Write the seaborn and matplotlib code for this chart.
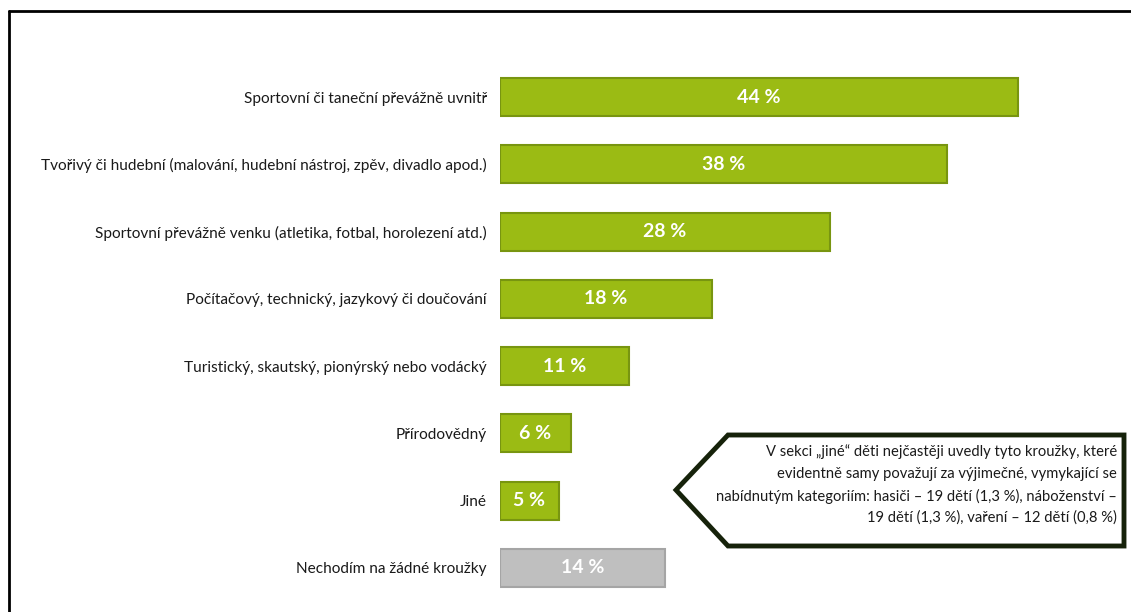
import matplotlib
matplotlib.use("Agg")
import matplotlib.pyplot as plt
import seaborn as sns
import pandas as pd
from matplotlib.patches import Polygon
from matplotlib.lines import Line2D

categories = [
    "Sportovní či taneční převážně uvnitř",
    "Tvořivý či hudební (malování, hudební nástroj, zpěv, divadlo apod.)",
    "Sportovní převážně venku (atletika, fotbal, horolezení atd.)",
    "Počítačový, technický, jazykový či doučování",
    "Turistický, skautský, pionýrský nebo vodácký",
    "Přírodovědný",
    "Jiné",
    "Nechodím na žádné kroužky",
]
values = [44, 38, 28, 18, 11, 6, 5, 14]
groups = ["a", "a", "a", "a", "a", "a", "a", "b"]
value_labels = ["44 %", "38 %", "28 %", "18 %", "11 %", "6 %", "5 %", "14 %"]
note_lines = [
    "V sekci „jiné“ děti nejčastěji uvedly tyto kroužky, které",
    "evidentně samy považují za výjimečné, vymykající se",
    "nabídnutým kategoriím: hasiči – 19 dětí (1,3 %), náboženství –",
    "19 dětí (1,3 %), vaření – 12 dětí (0,8 %)",
]

sns.set_theme(style="white")
plt.rcParams["font.family"] = ["Lato", "DejaVu Sans"]

df = pd.DataFrame({"cat": categories, "val": values, "grp": groups})

W, H = 1131, 612
fig = plt.figure(figsize=(W / 100, H / 100), dpi=100)
ax = fig.add_axes([500 / W, 1 - 601.6 / H, 588.5 / W, (601.6 - 63.4) / H])

sns.barplot(data=df, y="cat", x="val", hue="grp", orient="h",
            palette={"a": "#9bbb14", "b": "#bfbfbf"}, dodge=False,
            width=0.565, legend=False, ax=ax, saturation=1)

edge = {"a": "#789510", "b": "#a5a5a5"}
for patch_container, g in zip(ax.containers, ["a", "b"]):
    for p in patch_container:
        p.set_edgecolor(edge[g])
        p.set_linewidth(1.5)

ax.set_xlim(0, 50)
ax.set_ylim(7.5, -0.5)
ax.set_xlabel("")
ax.set_ylabel("")
ax.set_xticks([])
for s in ax.spines.values():
    s.set_visible(False)
ax.tick_params(axis="y", length=0, pad=9.5, labelsize=11.1, labelcolor="#1a1a1a")

for i, (v, lab) in enumerate(zip(values, value_labels)):
    ax.text(v / 2, i, lab, ha="center", va="center", color="white",
            fontsize=14, fontweight="bold")

# frame (left and top)
fig.add_artist(Line2D([8.5 / W, 8.5 / W], [1 - 11 / H, 0], transform=fig.transFigure,
                      color="black", linewidth=2))
fig.add_artist(Line2D([8.5 / W, 1], [1 - 11 / H, 1 - 11 / H], transform=fig.transFigure,
                      color="black", linewidth=2))

# callout
pts = [(676, 490), (728, 435), (1124, 435), (1124, 546), (728, 546)]
poly = Polygon([(x / W, 1 - y / H) for x, y in pts], closed=True, transform=fig.transFigure,
               facecolor="white", edgecolor="#16220a", linewidth=3.5, joinstyle="miter")
fig.add_artist(poly)
for k, line in enumerate(note_lines):
    fig.text(1117 / W, 1 - (452 + 22 * k) / H, line, ha="right", va="center",
             fontsize=10.6, color="#1a1a1a")

fig.savefig("out.png", dpi=100, facecolor="white")
